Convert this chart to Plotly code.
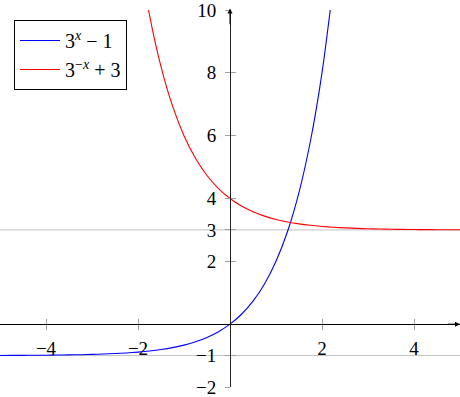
import plotly.graph_objects as go

# ---- data ----
x_blue = [-5, -4.75, -4.5, -4.25, -4, -3.75, -3.5, -3.25, -3, -2.75, -2.5, -2.25, -2,
          -1.75, -1.5, -1.25, -1, -0.75, -0.5, -0.25, 0, 0.25, 0.5, 0.75, 1, 1.25,
          1.5, 1.75, 2, 2.25]
y_blue = [-0.9959, -0.9946, -0.9929, -0.9906, -0.9877, -0.9838, -0.9786, -0.9719,
          -0.9630, -0.9513, -0.9358, -0.9156, -0.8889, -0.8538, -0.8075, -0.7467,
          -0.6667, -0.5613, -0.4226, -0.2402, 0.0, 0.3161, 0.7321, 1.2795, 2.0,
          2.9482, 4.1962, 5.8385, 8.0, 10.8447]

x_red = [-2, -1.75, -1.5, -1.25, -1, -0.75, -0.5, -0.25, 0, 0.25, 0.5, 0.75, 1, 1.25,
         1.5, 1.75, 2, 2.25, 2.5, 2.75, 3, 3.25, 3.5, 3.75, 4, 4.25, 4.5, 4.75, 5]
y_red = [12.0, 9.8385, 8.1962, 6.9482, 6.0, 5.2795, 4.7321, 4.3161, 4.0, 3.7598,
         3.5774, 3.4387, 3.3333, 3.2533, 3.1925, 3.1462, 3.1111, 3.0844, 3.0642,
         3.0487, 3.0370, 3.0281, 3.0214, 3.0162, 3.0123, 3.0094, 3.0071, 3.0054,
         3.0041]

series_names = ["3<sup><i>x</i></sup> − 1", "3<sup>−<i>x</i></sup> + 3"]
x_ticks = [-4, -2, 2, 4]
y_ticks = [-2, -1, 2, 3, 4, 6, 8, 10]
ref_lines = [3, -1]
x_range = [-5, 5]
y_range = [-2, 10]

FONT = "Liberation Serif"
TOP, BOTTOM = 10, 10
plot_h = 397 - TOP - BOTTOM

fig = go.Figure()
fig.add_trace(go.Scatter(x=x_blue, y=y_blue, mode="lines", name=series_names[0],
                         line=dict(color="#0000ff", width=1.1, shape="spline", smoothing=0.8)))
fig.add_trace(go.Scatter(x=x_red, y=y_red, mode="lines", name=series_names[1],
                         line=dict(color="#ff0000", width=1.1, shape="spline", smoothing=0.8)))
# empty trace to host the overlay axes (inner halves of the ticks)
fig.add_trace(go.Scatter(x=[], y=[], xaxis="x2", yaxis="y2", showlegend=False, hoverinfo="skip"))

for v in ref_lines:
    fig.add_shape(type="line", xref="paper", x0=0, x1=1, yref="y", y0=v, y1=v,
                  line=dict(color="#c0c0c0", width=1), layer="below")

xpos = (0 - y_range[0]) / (y_range[1] - y_range[0])
ypos = (0 - x_range[0]) / (x_range[1] - x_range[0])

common = dict(showgrid=False, zeroline=False, tickcolor="#a0a0a0", ticklen=5, tickwidth=1,
              automargin=False, ticklabeloverflow="allow",
              tickfont=dict(family=FONT, size=19, color="black"))
fig.update_layout(
    width=460, height=397,
    margin=dict(l=0, r=0, t=TOP, b=BOTTOM, autoexpand=False),
    paper_bgcolor="white", plot_bgcolor="white",
    xaxis=dict(range=x_range, anchor="free", position=xpos, showline=True,
               linecolor="black", linewidth=1, ticks="outside", tickvals=x_ticks,
               ticklabelstandoff=2, **common),
    yaxis=dict(range=y_range, anchor="free", position=ypos, showline=True,
               linecolor="#222", linewidth=1, ticks="outside", tickvals=y_ticks,
               ticklabelstandoff=5, **common),
    xaxis2=dict(range=x_range, overlaying="x", anchor="free", position=xpos,
                showline=False, ticks="inside", tickvals=x_ticks, showticklabels=False,
                **common),
    yaxis2=dict(range=y_range, overlaying="y", anchor="free", position=ypos,
                showline=False, ticks="inside", tickvals=y_ticks, showticklabels=False,
                **common),
    legend=dict(x=14 / 460, y=1 - (20 - TOP) / plot_h, xanchor="left", yanchor="top",
                bgcolor="white", bordercolor="black", borderwidth=1, itemwidth=40,
                font=dict(family=FONT, size=20, color="black")),
    showlegend=True,
)

fig.add_annotation(x=x_range[1], y=0, ax=x_range[1] - 0.3, ay=0, xref="x", yref="y",
                   axref="x", ayref="y", showarrow=True, arrowhead=2, arrowsize=1,
                   arrowwidth=1, arrowcolor="black", text="")
fig.add_annotation(x=0, y=y_range[1] + 0.05, ax=0, ay=y_range[1] - 0.5, xref="x", yref="y",
                   axref="x", ayref="y", showarrow=True, arrowhead=2, arrowsize=1,
                   arrowwidth=1, arrowcolor="black", text="")

fig.write_html("out.html", config={"displayModeBar": False},
               post_script="document.body.style.margin='0';")
